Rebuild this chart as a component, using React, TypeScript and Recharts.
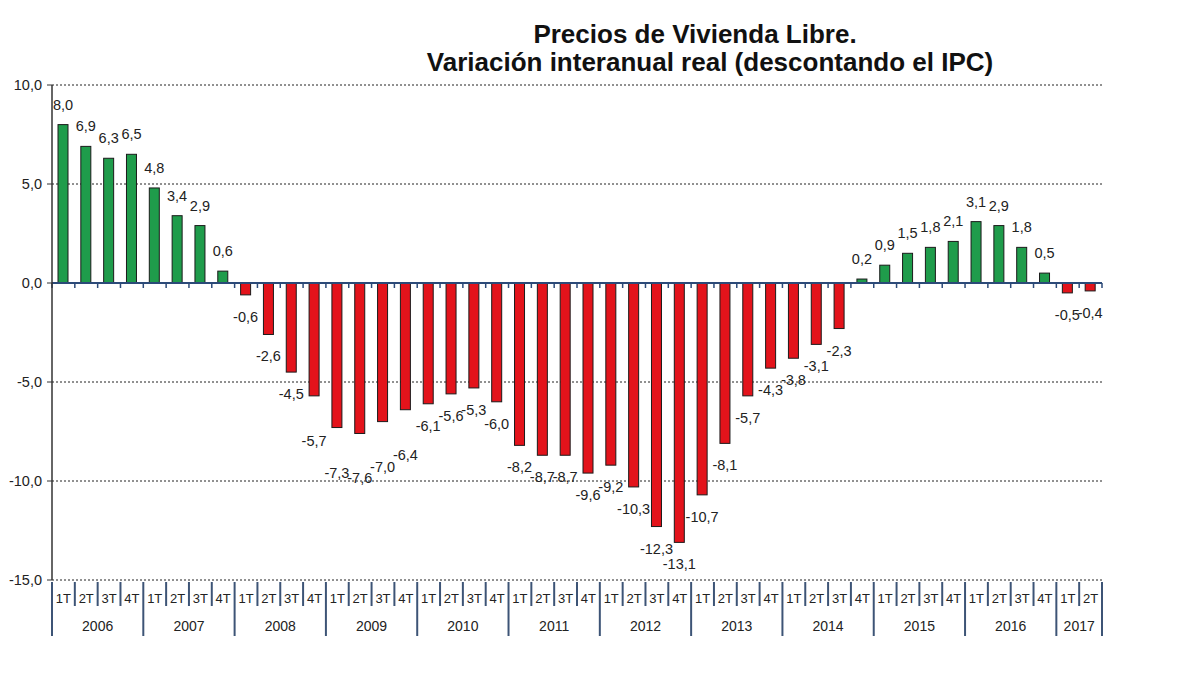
import { BarChart, Bar, XAxis, YAxis, CartesianGrid, ReferenceLine } from 'recharts'

const YEARS = ['2006', '2007', '2008', '2009', '2010', '2011', '2012', '2013', '2014', '2015', '2016', '2017']
const QUARTERS = ['1T', '2T', '3T', '4T']
// variación interanual real, % (1T 2006 .. 2T 2017)
const VARIATION = [
    8.0, 6.9, 6.3, 6.5,
    4.8, 3.4, 2.9, 0.6,
    -0.6, -2.6, -4.5, -5.7,
    -7.3, -7.6, -7.0, -6.4,
    -6.1, -5.6, -5.3, -6.0,
    -8.2, -8.7, -8.7, -9.6,
    -9.2, -10.3, -12.3, -13.1,
    -10.7, -8.1, -5.7, -4.3,
    -3.8, -3.1, -2.3, 0.2,
    0.9, 1.5, 1.8, 2.1,
    3.1, 2.9, 1.8, 0.5,
    -0.5, -0.4
]
const Y_TICKS = [-15, -10, -5, 0, 5, 10]
// labels pushed further down so they clear the neighbouring bars
const LOWERED_LABELS = new Set([11, 12, 13, 14, 15])

const data = VARIATION.map((v, i) => ({
    idx: i,
    year: YEARS[Math.floor(i / 4)],
    quarter: QUARTERS[i % 4],
    v
}))

const FONT = 'Arial, "Liberation Sans", sans-serif'
const GREEN = '#1f9c4b'
const RED = '#e3131b'
const AXIS_BLUE = '#2c4a78'
const SEP_COLOR = '#3d5476'

const WIDTH = 1200
const HEIGHT = 675
const PLOT_LEFT = 52
const PLOT_RIGHT = 1102
const PLOT_TOP = 85
const PLOT_BOTTOM = 580
const BAND = (PLOT_RIGHT - PLOT_LEFT) / data.length

const fmt = (n: number) => n.toFixed(1).replace('.', ',')

function BarWithValue(props: any) {
    const { x, y, width, height, payload, index } = props
    const top = Math.min(y, y + height)
    const h = Math.abs(height)
    const value = payload.v
    const cx = x + width / 2
    const ly = value >= 0
        ? top - 20
        : top + h + (LOWERED_LABELS.has(index) ? 45 : 22)
    return (
        <g>
            <rect x={x} y={top} width={width} height={h}
                fill={value >= 0 ? GREEN : RED} stroke="#1b1b1b" strokeWidth={1} />
            <text x={cx} y={ly} textAnchor="middle" dominantBaseline="central"
                fontSize={14.5} fill="#222" fontFamily={FONT}>
                {fmt(value)}
            </text>
        </g>
    )
}

// zero axis with small ticks between quarters
function ZeroLine(props: any) {
    const { x1, x2, y1 } = props
    const step = (x2 - x1) / data.length
    return (
        <g>
            <line x1={x1} x2={x2} y1={y1} y2={y1} stroke={AXIS_BLUE} strokeWidth={2} />
            {Array.from({ length: data.length + 1 }, (_, k) => (
                <line key={k} x1={x1 + k * step} x2={x1 + k * step} y1={y1} y2={y1 + 5}
                    stroke={AXIS_BLUE} strokeWidth={1.5} />
            ))}
        </g>
    )
}

function QuarterTick(props: any) {
    const { x, payload } = props
    const i = Number(payload.value)
    const d = data[i]
    if (!d) return null
    const qi = i % 4
    const lx = x - BAND / 2
    const isLast = i === data.length - 1
    const groupSize = Math.min(4, data.length - i)
    return (
        <g>
            <line x1={lx} x2={lx} y1={PLOT_BOTTOM + 2}
                y2={qi === 0 ? PLOT_BOTTOM + 56 : PLOT_BOTTOM + 26}
                stroke={SEP_COLOR} strokeWidth={2} />
            {isLast && (
                <line x1={x + BAND / 2} x2={x + BAND / 2} y1={PLOT_BOTTOM + 2} y2={PLOT_BOTTOM + 56}
                    stroke={SEP_COLOR} strokeWidth={2} />
            )}
            <text x={x} y={PLOT_BOTTOM + 18} textAnchor="middle" dominantBaseline="central"
                fontSize={13} fill="#222" fontFamily={FONT}>
                {d.quarter}
            </text>
            {qi === 0 && (
                <text x={lx + (groupSize * BAND) / 2} y={PLOT_BOTTOM + 46} textAnchor="middle"
                    dominantBaseline="central" fontSize={14} fill="#222" fontFamily={FONT}>
                    {d.year}
                </text>
            )}
        </g>
    )
}

const titleStyle = {
    position: 'absolute' as const,
    left: 0,
    textAlign: 'center' as const,
    fontSize: 26,
    fontWeight: 'bold' as const,
    color: '#111',
    lineHeight: '30px',
    whiteSpace: 'nowrap' as const
}

export default function App() {
    return (
        <div style={{ position: 'absolute', left: 0, top: 0, width: WIDTH, height: HEIGHT, background: '#fff', fontFamily: FONT }}>
            <div style={{ ...titleStyle, width: 1390, top: 19 }}>
                Precios de Vivienda Libre.
            </div>
            <div style={{ ...titleStyle, width: 1420, top: 47 }}>
                Variación interanual real (descontando el IPC)
            </div>
            <BarChart
                width={WIDTH}
                height={HEIGHT}
                data={data}
                margin={{ top: PLOT_TOP, right: WIDTH - PLOT_RIGHT, bottom: 0, left: 0 }}
                barSize={10}
            >
                <CartesianGrid vertical={false} stroke="#222" strokeDasharray="2 2" />
                <YAxis
                    width={PLOT_LEFT}
                    domain={[-15, 10]}
                    ticks={Y_TICKS}
                    interval={0}
                    tickFormatter={fmt}
                    tick={{ fontSize: 14.5, fill: '#222', fontFamily: FONT }}
                    tickSize={5}
                    tickMargin={5}
                    axisLine={{ stroke: '#333', strokeWidth: 1.5 }}
                    tickLine={{ stroke: '#333' }}
                />
                <XAxis
                    dataKey="idx"
                    type="category"
                    height={HEIGHT - PLOT_BOTTOM}
                    interval={0}
                    axisLine={false}
                    tickLine={false}
                    tick={<QuarterTick />}
                />
                <ReferenceLine y={0} shape={<ZeroLine />} />
                <Bar dataKey="v" isAnimationActive={false} shape={<BarWithValue />} />
            </BarChart>
        </div>
    )
}
